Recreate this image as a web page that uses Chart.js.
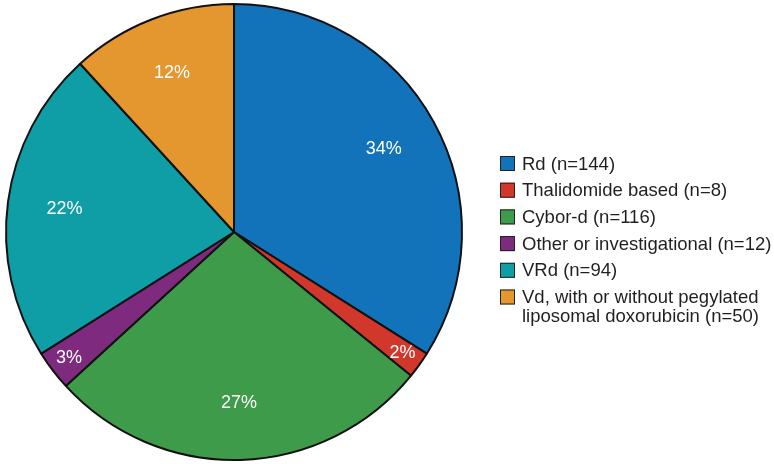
<!DOCTYPE html>
<html>
<head>
<meta charset="utf-8">
<title>Treatment regimens</title>
<script src="https://cdn.jsdelivr.net/npm/chart.js@4.4.1/dist/chart.umd.min.js"></script>
<style>
  html, body { margin: 0; padding: 0; background: #fff; }
  #wrap { position: relative; width: 774px; height: 464px; }
</style>
</head>
<body>
<div id="wrap"><canvas id="pieChart" width="774" height="464"></canvas></div>
<script>
// dados
const categorias = [
  'Rd',
  'Thalidomide based',
  'Cybor-d',
  'Other or investigational',
  'VRd',
  'Vd, with or without pegylated liposomal doxorubicin'
];
const pacientes = [144, 8, 116, 12, 94, 50];
const cores = ['#1272ba', '#d1382b', '#3d9b49', '#7e2a7f', '#109ea6', '#e4962f'];

const FONTE = '"Liberation Sans", Arial, sans-serif';
const total = pacientes.reduce((a, b) => a + b, 0);

// rótulos de porcentagem dentro das fatias
const rotulosFatias = {
  id: 'rotulosFatias',
  afterDatasetsDraw(chart) {
    const ctx = chart.ctx;
    const arcs = chart.getDatasetMeta(0).data;
    ctx.save();
    ctx.fillStyle = '#ffffff';
    ctx.font = '18px ' + FONTE;
    ctx.textAlign = 'center';
    ctx.textBaseline = 'middle';
    arcs.forEach((arc, i) => {
      const frac = pacientes[i] / total;
      const meio = (arc.startAngle + arc.endAngle) / 2;
      const r = arc.outerRadius * (frac < 0.05 ? 0.91 : 0.75);
      const x = arc.x + Math.cos(meio) * r;
      const y = arc.y + Math.sin(meio) * r;
      ctx.fillText(Math.round(frac * 100) + '%', x, y);
    });
    ctx.restore();
  }
};

// quebra de linha simples por largura
function quebrar(ctx, texto, largura) {
  const palavras = texto.split(' ');
  const linhas = [];
  let atual = '';
  palavras.forEach(p => {
    const teste = atual ? atual + ' ' + p : p;
    if (ctx.measureText(teste).width > largura && atual) {
      linhas.push(atual);
      atual = p;
    } else {
      atual = teste;
    }
  });
  if (atual) linhas.push(atual);
  return linhas;
}

// legenda à direita
const legendaLateral = {
  id: 'legendaLateral',
  afterDraw(chart) {
    const ctx = chart.ctx;
    const x0 = 500;
    let y = 163.5;
    const caixa = 15;
    const passo = 26.7;
    const alturaLinha = 19;
    ctx.save();
    ctx.font = '18.5px ' + FONTE;
    ctx.textBaseline = 'middle';
    ctx.textAlign = 'left';
    categorias.forEach((nome, i) => {
      const linhas = quebrar(ctx, nome + ' (n=' + pacientes[i] + ')', 265);
      ctx.fillStyle = cores[i];
      ctx.fillRect(x0, y - caixa / 2, caixa, caixa);
      ctx.strokeStyle = '#222';
      ctx.lineWidth = 1;
      ctx.strokeRect(x0 + 0.5, y - caixa / 2 + 0.5, caixa - 1, caixa - 1);
      ctx.fillStyle = '#231f20';
      linhas.forEach((l, k) => {
        ctx.fillText(l, x0 + 22, y + 1 + k * alturaLinha);
      });
      y += passo + (linhas.length - 1) * alturaLinha;
    });
    ctx.restore();
  }
};

const ctx = document.getElementById('pieChart').getContext('2d');
new Chart(ctx, {
  type: 'pie',
  data: {
    labels: categorias,
    datasets: [{
      data: pacientes,
      backgroundColor: cores,
      borderColor: '#111111',
      borderWidth: 2
    }]
  },
  options: {
    responsive: false,
    animation: false,
    layout: { padding: { left: 5, right: 311, top: 3, bottom: 3 } },
    plugins: {
      legend: { display: false },
      tooltip: { enabled: false }
    }
  },
  plugins: [rotulosFatias, legendaLateral]
});
</script>
</body>
</html>
